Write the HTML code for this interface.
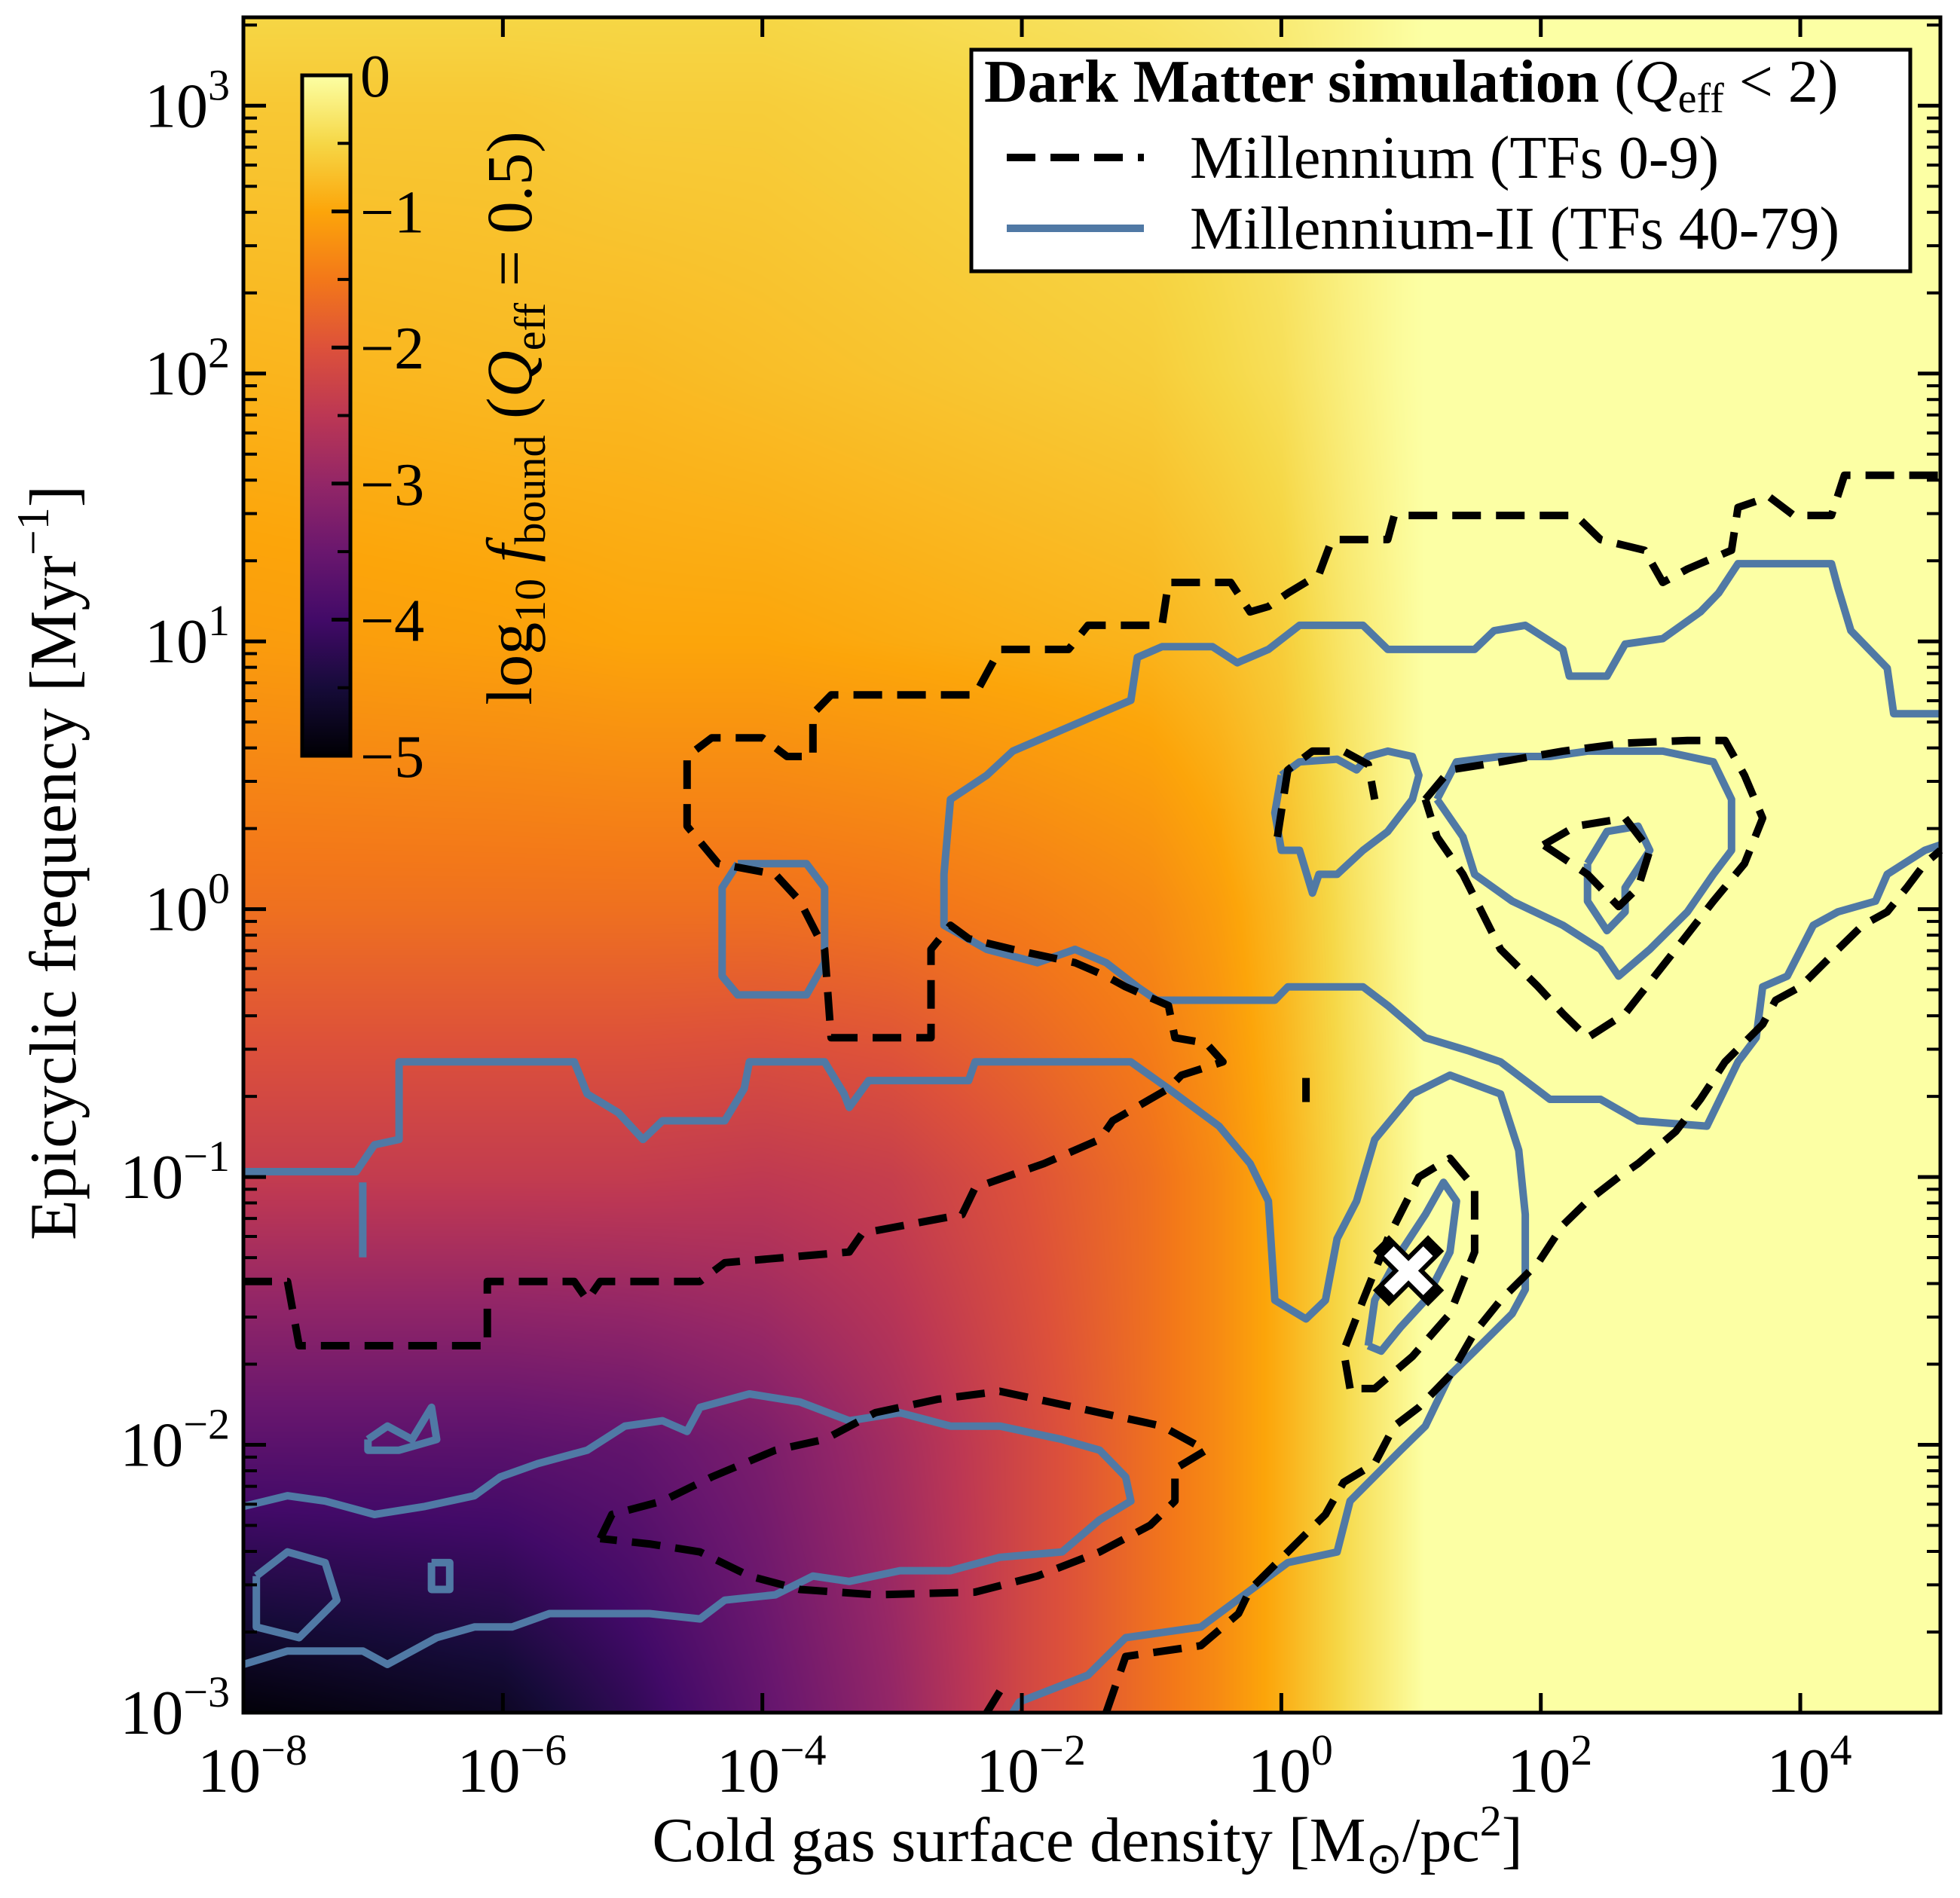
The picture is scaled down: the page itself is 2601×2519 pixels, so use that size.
<!DOCTYPE html>
<html><head><meta charset="utf-8">
<style>
body{margin:0;background:#fff;width:2601px;height:2519px;overflow:hidden;position:relative;font-family:"Liberation Serif",serif;}
#heat{position:absolute;left:323px;top:23px;}
#chart{position:absolute;left:0;top:0;}
text{font-family:"Liberation Serif",serif;fill:#000;}
</style></head>
<body>
<canvas id="heat" width="2252" height="2250"></canvas>
<svg id="chart" width="2601" height="2519" xmlns="http://www.w3.org/2000/svg">
<g id="contours"></g>
<g id="axes"></g>
<g>
  <defs><linearGradient id="cbg" x1="0" y1="1" x2="0" y2="0">
    <stop offset="0" stop-color="#000004"/><stop offset="0.1" stop-color="#160b39"/><stop offset="0.2" stop-color="#420a68"/><stop offset="0.3" stop-color="#6a176e"/><stop offset="0.4" stop-color="#932667"/><stop offset="0.5" stop-color="#bc3754"/><stop offset="0.6" stop-color="#dd513a"/><stop offset="0.7" stop-color="#f37819"/><stop offset="0.8" stop-color="#fca50a"/><stop offset="0.9" stop-color="#f6d746"/><stop offset="1" stop-color="#fcffa4"/>
  </linearGradient></defs>
  <rect x="401" y="100" width="64" height="903" fill="url(#cbg)" stroke="#000" stroke-width="5"/>
  <g id="cbticks"></g>
  <text transform="translate(705,555) rotate(-90)" text-anchor="middle" font-size="86">log<tspan font-size="58" dy="18">10</tspan><tspan dy="-18" font-style="italic"> f</tspan><tspan font-size="58" dy="18">bound</tspan><tspan dy="-18"> (</tspan><tspan font-style="italic">Q</tspan><tspan font-size="58" dy="18">eff</tspan><tspan dy="-18"> = 0.5)</tspan></text>
</g>
<g>
  <rect x="1289" y="66" width="1246" height="294" fill="#fff" stroke="#000" stroke-width="5"/>
  <text x="1306" y="135" font-size="80"><tspan font-weight="bold">Dark Matter simulation</tspan> (<tspan font-style="italic">Q</tspan><tspan font-size="56" dy="14">eff</tspan><tspan dy="-14"> &lt; 2)</tspan></text>
  <line x1="1336" y1="209" x2="1518" y2="209" stroke="#000" stroke-width="10" stroke-dasharray="38,20"/>
  <text x="1579" y="236" font-size="80">Millennium (TFs 0-9)</text>
  <line x1="1336" y1="303" x2="1518" y2="303" stroke="#5079a5" stroke-width="10"/>
  <text x="1579" y="330" font-size="80">Millennium-II (TFs 40-79)</text>
</g>
<text x="1443" y="2470" text-anchor="middle" font-size="84">Cold gas surface density [M<tspan font-size="58" dy="16">⊙</tspan><tspan dy="-16">/pc</tspan><tspan font-size="58" dy="-34">2</tspan><tspan dy="34">]</tspan></text>
<text transform="translate(100,1145) rotate(-90)" text-anchor="middle" font-size="88">Epicyclic frequency [Myr<tspan font-size="60" dy="-36">−1</tspan><tspan dy="36">]</tspan></text>
</svg>
<script>
// ---- heatmap data (log10 f_bound) ----
const heatLogX = [-8,-6,-5,-4,-3,-2,-1,-0.5,0,0.5,0.9,1.1,5.1];
const heatLogY = [3.35,3,2,1,0,-1,-2,-3];
const heatRow0 = [-0.5,-0.5,-0.5,-0.5,-0.45,-0.4,-0.35,-0.3,-0.25,-0.15,-0.05,0,0];
const heatRow1 = [-0.65,-0.65,-0.6,-0.6,-0.55,-0.5,-0.45,-0.4,-0.3,-0.15,-0.05,0,0];
const heatRow2 = [-0.85,-0.8,-0.8,-0.75,-0.7,-0.65,-0.6,-0.5,-0.4,-0.2,-0.05,0,0];
const heatRow3 = [-1.1,-1.05,-1.0,-1.0,-0.95,-0.9,-0.85,-0.75,-0.6,-0.3,-0.1,0,0];
const heatRow4 = [-1.6,-1.6,-1.6,-1.6,-1.55,-1.45,-1.3,-1.1,-0.8,-0.4,-0.1,0,0];
const heatRow5 = [-2.4,-2.4,-2.4,-2.45,-2.35,-2.0,-1.6,-1.3,-0.9,-0.45,-0.15,0,0];
const heatRow6 = [-3.7,-3.7,-3.6,-3.3,-2.8,-2.2,-1.6,-1.3,-0.9,-0.45,-0.15,0,0];
const heatRow7 = [-4.95,-4.7,-4.2,-3.6,-3.0,-2.2,-1.6,-1.3,-0.9,-0.45,-0.15,0,0];
const heatRows = [heatRow0,heatRow1,heatRow2,heatRow3,heatRow4,heatRow5,heatRow6,heatRow7];

// ---- axis ticks ----
const xTickExps = [-8,-6,-4,-2,0,2,4];
const yTickExps = [-3,-2,-1,0,1,2,3];
const cbTicks = [0,-1,-2,-3,-4,-5];
const cbLabels = ["0","−1","−2","−3","−4","−5"];

// ---- contours (log10 x, log10 y) ----
const mrA = [[-8,-1.39],[-7.66,-1.39],[-7.57,-1.63],[-6.12,-1.63],[-6.12,-1.39],[-5.45,-1.39],[-5.35,-1.46],[-5.25,-1.39],[-4.48,-1.39],[-4.29,-1.32],[-3.33,-1.28],[-3.23,-1.21],[-2.46,-1.14],[-2.36,-1.04],[-1.83,-0.95],[-1.40,-0.86],[-1.30,-0.79],[-0.87,-0.67],[-0.77,-0.62],[-0.45,-0.57],[-0.58,-0.50],[-0.82,-0.48],[-0.87,-0.36],[-1.20,-0.29],[-1.35,-0.25],[-1.59,-0.20],[-2.07,-0.15],[-2.41,-0.11],[-2.55,-0.06],[-2.70,-0.15],[-2.70,-0.48],[-3.47,-0.48],[-3.52,-0.15],[-3.71,0.03],[-3.90,0.13],[-4.34,0.17],[-4.58,0.31],[-4.58,0.57],[-4.39,0.64],[-4.00,0.64],[-3.81,0.57],[-3.61,0.57],[-3.61,0.73],[-3.47,0.80],[-2.36,0.80],[-2.17,0.97],[-1.64,0.97],[-1.49,1.06],[-0.92,1.06],[-0.87,1.22],[-0.39,1.22],[-0.24,1.11],[-0.10,1.13],[0.05,1.18],[0.29,1.25],[0.39,1.38],[0.82,1.38],[0.87,1.47],[2.27,1.47],[2.46,1.38],[2.80,1.34],[2.94,1.22],[3.13,1.27],[3.47,1.34],[3.52,1.50],[3.76,1.54],[3.95,1.47],[4.24,1.47],[4.34,1.62],[5.08,1.62]];
const mrD = [[-2.27,-3.00],[-2.17,-2.92]];
const mrDiag = [[-1.35,-3.00],[-1.20,-2.79],[-0.62,-2.75],[-0.33,-2.63],[-0.24,-2.54],[0.34,-2.26],[0.48,-2.14],[0.72,-2.07],[0.87,-1.93],[1.06,-1.86],[1.30,-1.74],[1.49,-1.58],[1.69,-1.46],[1.98,-1.32],[2.17,-1.18],[2.36,-1.09],[2.60,-1.00],[2.75,-0.95],[3.04,-0.83],[3.23,-0.71],[3.42,-0.57],[3.71,-0.43],[3.81,-0.34],[4.00,-0.29],[4.29,-0.15],[4.48,-0.06],[4.67,-0.01],[4.82,0.08],[4.96,0.17],[5.08,0.22]];
const mrDot = [[0.19,-0.63],[0.19,-0.72]];
const mrL1 = [[-0.03,0.27],[0.05,0.52],[0.24,0.59],[0.48,0.59],[0.67,0.54],[0.72,0.41]];
const mrL2 = [[1.11,0.41],[1.30,0.52],[1.69,0.55],[2.17,0.59],[2.65,0.62],[3.13,0.63],[3.42,0.63],[3.57,0.50],[3.71,0.34],[3.57,0.17],[3.33,0.03],[3.04,-0.15],[2.65,-0.39],[2.36,-0.48],[2.17,-0.39],[1.98,-0.29],[1.69,-0.15],[1.40,0.13],[1.20,0.27],[1.11,0.41]];
const mrL3 = [[2.02,0.24],[2.27,0.31],[2.65,0.34],[2.84,0.22],[2.75,0.08],[2.60,0.01],[2.36,0.13],[2.02,0.24]];
const mrL4 = [[0.53,-1.79],[0.48,-1.65],[0.63,-1.46],[0.82,-1.23],[1.06,-1.00],[1.30,-0.93],[1.49,-1.04],[1.49,-1.28],[1.30,-1.51],[1.01,-1.67],[0.72,-1.79],[0.53,-1.79]];
const mrE = [[-5.25,-2.35],[-5.16,-2.26],[-4.77,-2.21],[-4.39,-2.12],[-3.90,-2.02],[-3.52,-1.98],[-3.13,-1.88],[-2.65,-1.83],[-2.17,-1.80],[-1.59,-1.86],[-0.92,-1.93],[-0.58,-2.02],[-0.82,-2.09],[-0.82,-2.21],[-1.01,-2.30],[-1.40,-2.40],[-1.88,-2.49],[-2.36,-2.55],[-3.13,-2.56],[-3.71,-2.54],[-4.10,-2.49],[-4.48,-2.40],[-4.87,-2.37],[-5.25,-2.35]];

const m2S = [[-8,-0.98],[-7.13,-0.98],[-6.99,-0.88],[-6.80,-0.86],[-6.80,-0.57],[-5.45,-0.57],[-5.35,-0.69],[-5.11,-0.76],[-4.92,-0.86],[-4.77,-0.79],[-4.29,-0.79],[-4.14,-0.67],[-4.10,-0.57],[-3.52,-0.57],[-3.37,-0.69],[-3.33,-0.74],[-3.18,-0.64],[-2.41,-0.64],[-2.36,-0.57],[-1.16,-0.57],[-0.87,-0.67],[-0.48,-0.81],[-0.24,-0.95],[-0.10,-1.09],[-0.05,-1.46],[0.19,-1.53],[0.34,-1.46],[0.43,-1.23],[0.58,-1.09],[0.72,-0.86],[1.01,-0.69],[1.30,-0.62],[1.69,-0.69],[1.83,-0.90],[1.88,-1.14],[1.88,-1.42],[1.78,-1.51],[1.49,-1.65],[1.30,-1.74],[1.11,-1.93],[0.92,-2.02],[0.53,-2.21],[0.43,-2.40],[0.05,-2.44],[-0.62,-2.68],[-1.20,-2.72],[-1.49,-2.86],[-2.02,-2.96],[-2.07,-3.00]];
const m2Stub = [[-7.08,-1.02],[-7.08,-1.30]];
const m2Upper = [[-2.60,-0.06],[-2.60,0.13],[-2.55,0.41],[-2.27,0.50],[-2.07,0.59],[-1.40,0.73],[-1.16,0.78],[-1.11,0.94],[-0.92,0.98],[-0.53,0.98],[-0.34,0.92],[-0.10,0.97],[0.14,1.06],[0.63,1.06],[0.82,0.97],[1.49,0.97],[1.64,1.04],[1.88,1.06],[2.17,0.97],[2.22,0.87],[2.51,0.87],[2.65,0.99],[2.94,1.01],[3.23,1.11],[3.37,1.18],[3.52,1.29],[4.24,1.29],[4.29,1.20],[4.39,1.04],[4.67,0.90],[4.72,0.73],[5.08,0.73]];
const m2Lower = [[-2.60,-0.06],[-2.27,-0.15],[-1.88,-0.20],[-1.59,-0.15],[-1.35,-0.20],[-1.11,-0.29],[-0.96,-0.34],[-0.05,-0.34],[0.05,-0.29],[0.63,-0.29],[0.82,-0.36],[1.11,-0.48],[1.45,-0.53],[1.69,-0.57],[2.07,-0.71],[2.46,-0.71],[2.75,-0.79],[3.28,-0.81],[3.52,-0.57],[3.66,-0.48],[3.71,-0.29],[3.90,-0.25],[4.10,-0.06],[4.29,-0.01],[4.58,0.03],[4.67,0.13],[4.96,0.22],[5.08,0.24]];
const m2L1 = [[-4.19,0.17],[-3.66,0.17],[-3.52,0.08],[-3.52,-0.20],[-3.66,-0.32],[-4.19,-0.32],[-4.31,-0.25],[-4.31,0.08],[-4.19,0.17]];
const m2L2 = [[0.00,0.50],[0.14,0.55],[0.43,0.56],[0.58,0.52],[0.67,0.57],[0.82,0.59],[1.01,0.57],[1.06,0.50],[1.01,0.41],[0.82,0.29],[0.63,0.22],[0.43,0.13],[0.29,0.13],[0.24,0.06],[0.14,0.22],[0.00,0.22],[-0.05,0.36],[0.00,0.50]];
const m2L3 = [[1.20,0.41],[1.35,0.55],[1.69,0.57],[2.07,0.57],[2.36,0.59],[2.94,0.59],[3.33,0.55],[3.47,0.41],[3.47,0.22],[3.33,0.13],[3.13,-0.01],[2.84,-0.15],[2.60,-0.25],[2.46,-0.15],[2.17,-0.06],[1.78,0.03],[1.49,0.13],[1.40,0.27],[1.20,0.41]];
const m2L4 = [[2.36,0.17],[2.51,0.29],[2.75,0.31],[2.84,0.22],[2.65,0.08],[2.65,-0.01],[2.51,-0.08],[2.36,0.03],[2.36,0.17]];
const m2L5 = [[0.67,-1.63],[0.72,-1.46],[0.92,-1.28],[1.11,-1.14],[1.25,-1.02],[1.35,-1.09],[1.30,-1.28],[1.11,-1.46],[0.92,-1.56],[0.77,-1.65],[0.67,-1.63]];
const m2B = [[-8,-2.23],[-7.66,-2.19],[-7.37,-2.21],[-6.99,-2.26],[-6.60,-2.23],[-6.22,-2.19],[-6.02,-2.12],[-5.73,-2.07],[-5.35,-2.02],[-5.06,-1.93],[-4.77,-1.91],[-4.58,-1.95],[-4.48,-1.86],[-4.10,-1.81],[-3.71,-1.84],[-3.33,-1.91],[-2.94,-1.88],[-2.55,-1.93],[-2.17,-1.93],[-1.69,-1.98],[-1.40,-2.02],[-1.20,-2.12],[-1.16,-2.21],[-1.40,-2.28],[-1.69,-2.40],[-2.17,-2.42],[-2.55,-2.47],[-2.94,-2.47],[-3.33,-2.51],[-3.61,-2.49],[-3.90,-2.56],[-4.29,-2.58],[-4.48,-2.65],[-4.87,-2.63],[-5.25,-2.63],[-5.64,-2.63],[-5.93,-2.68],[-6.22,-2.68],[-6.51,-2.72],[-6.89,-2.82],[-7.08,-2.77],[-7.37,-2.77],[-7.66,-2.77],[-8,-2.82]];
const m2B2 = [[-7.90,-2.49],[-7.66,-2.40],[-7.37,-2.44],[-7.28,-2.58],[-7.57,-2.72],[-7.90,-2.68],[-7.90,-2.49]];
const m2B3 = [[-7.04,-1.98],[-6.89,-1.93],[-6.70,-1.98],[-6.55,-1.86],[-6.51,-1.98],[-6.80,-2.02],[-7.04,-2.02],[-7.04,-1.98]];
const m2B4 = [[-6.55,-2.44],[-6.41,-2.44],[-6.41,-2.54],[-6.55,-2.54],[-6.55,-2.44]];
const markerPoint = [0.98,-1.35];

// ---- layout ----
const PL=323, PR=2575, PT=23, PB=2273;
const XMIN=-8, XMAX=5.08, YMIN=-3, YMAX=3.33;
const sx = lx => PL + (lx-XMIN)/(XMAX-XMIN)*(PR-PL);
const sy = ly => PB - (ly-YMIN)/(YMAX-YMIN)*(PB-PT);
const NS="http://www.w3.org/2000/svg";

const inf=[[0,0,4],[22,11,57],[66,10,104],[106,23,110],[147,38,103],[188,55,84],[221,81,58],[243,120,25],[252,165,10],[246,215,70],[252,255,164]];
function cmap(v){let t=Math.max(0,Math.min(1,(v+5)/5))*10;let i=Math.min(9,Math.floor(t));let f=t-i;const a=inf[i],b=inf[i+1];return [a[0]+(b[0]-a[0])*f,a[1]+(b[1]-a[1])*f,a[2]+(b[2]-a[2])*f];}
function interp1(arr,v){
  const asc=arr[arr.length-1]>arr[0];
  for(let i=0;i<arr.length-1;i++){const a=arr[i],b=arr[i+1];
    if(asc?(v>=a&&v<=b):(v<=a&&v>=b)) return [i,(v-a)/(b-a)];}
  return asc?(v<arr[0]?[0,0]:[arr.length-2,1]):(v>arr[0]?[0,0]:[arr.length-2,1]);
}
(function(){
  const c=document.getElementById('heat');const ctx=c.getContext('2d');
  const W=c.width,H=c.height;const img=ctx.createImageData(W,H);
  const colIdx=[];for(let px=0;px<W;px++){colIdx.push(interp1(heatLogX,XMIN+(px+0.5)/W*(XMAX-XMIN)));}
  for(let py=0;py<H;py++){
    const [ri,rf]=interp1(heatLogY,YMAX-(py+0.5)/H*(YMAX-YMIN));
    const r0=heatRows[ri],r1=heatRows[ri+1];
    for(let px=0;px<W;px++){
      const [ci,cf]=colIdx[px];
      const a=r0[ci]+(r0[ci+1]-r0[ci])*cf, b=r1[ci]+(r1[ci+1]-r1[ci])*cf;
      const col=cmap(a+(b-a)*rf);const k=(py*W+px)*4;
      img.data[k]=col[0];img.data[k+1]=col[1];img.data[k+2]=col[2];img.data[k+3]=255;
    }
  }
  ctx.putImageData(img,0,0);
})();

const cg=document.getElementById('contours');
function poly(pts,name,color,dash){
  const p=document.createElementNS(NS,'polyline');
  p.setAttribute('points',pts.map(q=>sx(q[0]).toFixed(1)+','+sy(q[1]).toFixed(1)).join(' '));
  p.setAttribute('fill','none');p.setAttribute('stroke',color);p.setAttribute('stroke-width','10');
  p.setAttribute('stroke-linejoin','round');
  if(dash)p.setAttribute('stroke-dasharray','38,20');
  
  
  cg.appendChild(p);
}
const BL="#5079a5";
[[m2S,'m2-contour-main'],[m2Stub,'m2-contour-stub'],[m2Upper.slice().reverse().concat(m2Lower.slice(1)),'m2-contour-upper'],[m2L1,'m2-contour-loop-1'],[m2L2,'m2-contour-loop-2'],[m2L3,'m2-contour-loop-3'],[m2L4,'m2-contour-loop-4'],[m2L5,'m2-contour-loop-5'],[m2B,'m2-contour-bottom'],[m2B2,'m2-contour-bottom-2'],[m2B3,'m2-contour-bottom-3'],[m2B4,'m2-contour-bottom-4']].forEach(a=>poly(a[0],a[1],BL,false));
[[mrA,'mr-contour-outer'],[mrD,'mr-contour-bottom-stub'],[mrDiag,'mr-contour-diagonal'],[mrDot,'mr-contour-dot'],[mrL1,'mr-contour-loop-1'],[mrL2,'mr-contour-loop-2'],[mrL3,'mr-contour-loop-3'],[mrL4,'mr-contour-loop-4'],[mrE,'mr-contour-ellipse']].forEach(a=>poly(a[0],a[1],'#000',true));
(function(){const mx=sx(markerPoint[0]),my=sy(markerPoint[1]);
  const g=document.createElementNS(NS,'g');
  
  
  const d=`M${mx-26},${my-26}L${mx+26},${my+26}M${mx-26},${my+26}L${mx+26},${my-26}`;
  const p1=document.createElementNS(NS,'path');p1.setAttribute('d',d);p1.setAttribute('stroke','#000');p1.setAttribute('stroke-width','30');p1.setAttribute('stroke-linecap','square');g.appendChild(p1);
  const p2=document.createElementNS(NS,'path');p2.setAttribute('d',d);p2.setAttribute('stroke','#fff');p2.setAttribute('stroke-width','18');g.appendChild(p2);
  cg.appendChild(g);})();

const ax=document.getElementById('axes');
function line(x1,y1,x2,y2,w,name){const l=document.createElementNS(NS,'line');
  l.setAttribute('x1',x1);l.setAttribute('y1',y1);l.setAttribute('x2',x2);l.setAttribute('y2',y2);
  l.setAttribute('stroke','#000');l.setAttribute('stroke-width',w);
  
  
  ax.appendChild(l);}
function label(x,y,exp,anchor,name){const t=document.createElementNS(NS,'text');
  t.setAttribute('x',x);t.setAttribute('y',y);t.setAttribute('text-anchor',anchor);t.setAttribute('font-size','84');
  const neg=exp<0?'−':'';t.innerHTML='10<tspan font-size="58" dy="-36">'+neg+Math.abs(exp)+'</tspan>';
  
  
  ax.appendChild(t);}
xTickExps.forEach(e=>{const x=sx(e);
  line(x,PB,x,PB-26,5,'x-tick');line(x,PT,x,PT+26,5,'x-tick-top');
  label(x+12,2378,e,'middle','x-tick-label');});
yTickExps.forEach(e=>{const y=sy(e);
  line(PL,y,PL+30,y,5,'y-tick');line(PR,y,PR-30,y,5,'y-tick-right');
  label(305,y+28,e,'end','y-tick-label');
  for(let m=2;m<10;m++){const yy=sy(e+Math.log10(m));if(yy<PT)continue;
    line(PL,yy,PL+18,yy,4,'y-minor-tick');line(PR,yy,PR-18,yy,4,'y-minor-tick-right');}
});
const fr=document.createElementNS(NS,'rect');fr.setAttribute('x',PL);fr.setAttribute('y',PT);fr.setAttribute('width',PR-PL);fr.setAttribute('height',PB-PT);
fr.setAttribute('fill','none');fr.setAttribute('stroke','#000');fr.setAttribute('stroke-width','5');


ax.appendChild(fr);

const cbt=document.getElementById('cbticks');
cbTicks.forEach((v,i)=>{const y=100+(-v/5)*903;
  const l=document.createElementNS(NS,'line');l.setAttribute('x1',440);l.setAttribute('x2',465);l.setAttribute('y1',y);l.setAttribute('y2',y);l.setAttribute('stroke','#000');l.setAttribute('stroke-width','5');
  
  
  cbt.appendChild(l);
  const t=document.createElementNS(NS,'text');t.setAttribute('x',478);t.setAttribute('y',y+28);t.setAttribute('font-size','80');t.textContent=cbLabels[i];
  
  
  cbt.appendChild(t);
  if(i<cbTicks.length-1){const ym=y+903/10;const l2=document.createElementNS(NS,'line');l2.setAttribute('x1',448);l2.setAttribute('x2',465);l2.setAttribute('y1',ym);l2.setAttribute('y2',ym);l2.setAttribute('stroke','#000');l2.setAttribute('stroke-width','4');
    
    
    cbt.appendChild(l2);}
});
</script>
</body></html>
